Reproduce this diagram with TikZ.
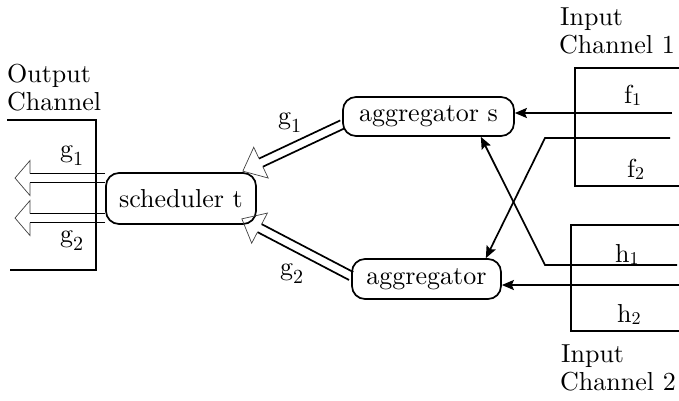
\documentclass[tikz,border=0pt]{standalone}
\usepackage{fontspec}
% use the 10pt design of Latin Modern at every size
\setmainfont{lmroman10-regular}[Extension=.otf]
\usetikzlibrary{calc,arrows.meta}

% g-labels: full-height digit dropped below the baseline
\newcommand\lsub[2]{#1\raisebox{-8pt}{\fontsize{20}{20}\selectfont #2}}
% f/h-labels: smaller digit, nearly on the baseline
\newcommand\ssub[2]{#1\raisebox{-2pt}{\fontsize{18}{18}\selectfont #2}}

% Hollow block arrow: #1 tail, #2 tip, #3 half gap of the shaft,
% #4 head length, #5 head half width
\newcommand\hollowarrow[5]{%
  \draw[shaft] ($(#1)!#3!90:(#2)$) -- ($(#2)!#4!(#1)!#3!-90:(#1)$)
               ($(#1)!#3!-90:(#2)$) -- ($(#2)!#4!(#1)!#3!90:(#1)$);
  \draw[head] ($(#2)!#4!(#1)!#3!-90:(#1)$) -- ($(#2)!#4!(#1)!#5!-90:(#1)$)
              -- (#2) -- ($(#2)!#4!(#1)!#5!90:(#1)$)
              -- ($(#2)!#4!(#1)!#3!90:(#1)$);
}

\begin{document}
\begin{tikzpicture}[x=1pt,y=-1pt,
  every node/.style={font=\fontsize{26}{28}\selectfont, inner sep=0pt},
  proc/.style={draw, line width=1.7pt, rounded corners=13pt},
  wire/.style={line width=1.7pt},
  feed/.style={wire, -{Stealth[length=12pt,width=10pt,inset=2pt]}},
  shaft/.style={line width=1.7pt},
  head/.style={line width=0.7pt, draw=black!75, line join=miter}]
\useasboundingbox (0,0) rectangle (679,400);

% processes
\node[proc, minimum width=150pt, minimum height=51pt] (sched) at (181,198.5) {scheduler t};
\node[proc, minimum width=171pt, minimum height=39pt] (aggs) at (428.5,116.5) {aggregator s};
\node[proc, minimum width=149pt, minimum height=40pt] (agg) at (426.5,279) {aggregator};

% channel captions
\node[anchor=base west] (outT) at (7,82) {Output};
\node[anchor=base west] (outC) at (7,110) {Channel};
\node[anchor=base west] (in1T) at (560,25) {Input};
\node[anchor=base west] (in1C) at (559,53) {Channel 1};
\node[anchor=base west] (in2T) at (561,362) {Input};
\node[anchor=base west] (in2C) at (560,390) {Channel 2};

% channel frames
\draw[wire] (7,120) -- (96,120) -- (96,270) -- (10,270);
\draw[wire] (679,68) -- (575,68) -- (575,186) -- (679,186);
\draw[wire] (679,225) -- (571,225) -- (571,331) -- (679,331);

% stream labels
\node[anchor=base west] (lf1) at (624,103) {\ssub{f}{1}};
\node[anchor=base west] (lf2) at (627,177) {\ssub{f}{2}};
\node[anchor=base west] (lh1) at (615,262) {\ssub{h}{1}};
\node[anchor=base west] (lh2) at (617,322) {\ssub{h}{2}};
\node[anchor=base west] (lg1o) at (60,157) {\lsub{g}{1}};
\node[anchor=base west] (lg2o) at (60,242) {\lsub{g}{2}};
\node[anchor=base west] (lg1) at (278,124) {\lsub{g}{1}};
\node[anchor=base west] (lg2) at (280,275) {\lsub{g}{2}};

% inputs into the aggregators
\coordinate (f1in) at (672,113);
\draw[feed] (f1in) -- (f1in -| aggs.east);
\coordinate (f2in) at (670,138);
\coordinate (f2bend) at (545,138);
\draw[feed] (f2in) -- (f2bend) -- ($(agg.north east)+(-16,0)$);
\coordinate (h1in) at (677,265);
\coordinate (h1bend) at (545,265);
\draw[feed] (h1in) -- (h1bend) -- ($(aggs.south east)+(-34,0)$);
\coordinate (h2in) at (679,285);
\draw[feed] (h2in) -- (h2in -| agg.east);

% aggregators into the scheduler
\coordinate (t1) at ($(aggs.west)+(0,8)$);
\coordinate (p1) at ($(sched.north east)+(-14,-1)$);
\hollowarrow{t1}{p1}{4.5pt}{20pt}{17pt}
\coordinate (t2) at ($(agg.west)+(0,-3)$);
\coordinate (p2) at ($(sched.south east)+(-15,-6)$);
\hollowarrow{t2}{p2}{4.5pt}{20pt}{17pt}

% scheduler into the output channel
\coordinate (s1) at ($(sched.west)+(0,-20.5)$);
\coordinate (o1) at (15,178);
\hollowarrow{s1}{o1}{4.5pt}{15pt}{17.5pt}
\coordinate (s2) at ($(sched.west)+(0,19.5)$);
\coordinate (o2) at (15,218);
\hollowarrow{s2}{o2}{4.5pt}{15pt}{17.5pt}
\end{tikzpicture}
\end{document}
